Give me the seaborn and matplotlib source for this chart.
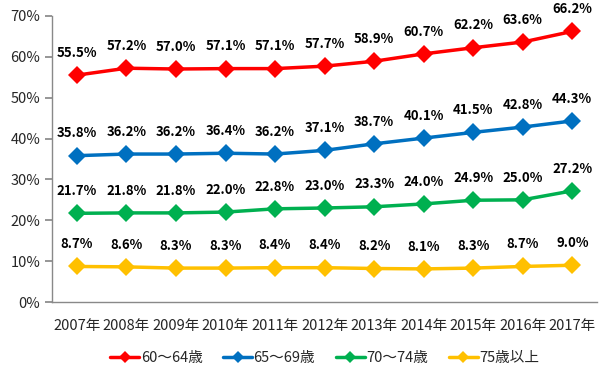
import matplotlib
matplotlib.use("Agg")
import matplotlib.pyplot as plt
import pandas as pd
import seaborn as sns

years = ["2007年", "2008年", "2009年", "2010年", "2011年", "2012年",
         "2013年", "2014年", "2015年", "2016年", "2017年"]
groups = ["60～64歳", "65～69歳", "70～74歳", "75歳以上"]
age_60_64 = [55.5, 57.2, 57.0, 57.1, 57.1, 57.7, 58.9, 60.7, 62.2, 63.6, 66.2]
age_65_69 = [35.8, 36.2, 36.2, 36.4, 36.2, 37.1, 38.7, 40.1, 41.5, 42.8, 44.3]
age_70_74 = [21.7, 21.8, 21.8, 22.0, 22.8, 23.0, 23.3, 24.0, 24.9, 25.0, 27.2]
age_75_up = [8.7, 8.6, 8.3, 8.3, 8.4, 8.4, 8.2, 8.1, 8.3, 8.7, 9.0]
colors = ["#FF0000", "#0070C0", "#00B050", "#FFC000"]

if __name__ == "__main__":
    sns.set_theme(style="white")
    plt.rcParams["font.family"] = ["Noto Sans CJK JP", "DejaVu Sans"]

    rows = []
    for g, vals in zip(groups, [age_60_64, age_65_69, age_70_74, age_75_up]):
        for i, v in enumerate(vals):
            rows.append({"idx": i, "value": v, "group": g})
    df = pd.DataFrame(rows)

    fig = plt.figure(figsize=(6.13, 3.78), dpi=100)
    ax = fig.add_axes([0.085, 0.201, 0.889, 0.757])
    sns.lineplot(data=df, x="idx", y="value", hue="group", hue_order=groups,
                 palette=colors, marker="D", markersize=9, markeredgewidth=0,
                 linewidth=2.5, ax=ax)

    for g, c in zip(groups, colors):
        sub = df[df.group == g]
        for _, r in sub.iterrows():
            ax.annotate(f"{r.value:.1f}%", (r.idx, r.value), xytext=(0, 11),
                        textcoords="offset points", ha="center", va="bottom",
                        fontsize=9.5, fontweight="bold", color="black")

    ax.set_xlim(-0.5, len(years) - 0.5)
    ax.set_ylim(0, 70)
    ax.set_xticks(range(len(years)))
    ax.set_xticklabels(years, fontsize=10.5)
    ax.set_xticks([i - 0.5 for i in range(len(years) + 1)], minor=True)
    ax.tick_params(axis="x", which="major", length=0, pad=12)
    ax.tick_params(axis="x", which="minor", length=5, color="#898989", direction="out")
    ax.set_yticks(range(0, 71, 10))
    ax.set_yticklabels([f"{v}%" for v in range(0, 71, 10)], fontsize=10.5)
    ax.tick_params(axis="y", length=5, color="#898989", direction="out", left=True)
    ax.set_xlabel("")
    ax.set_ylabel("")
    for s in ["top", "right"]:
        ax.spines[s].set_visible(False)
    for s in ["left", "bottom"]:
        ax.spines[s].set_color("#898989")
        ax.spines[s].set_linewidth(1)

    handles, labels = ax.get_legend_handles_labels()
    leg = ax.legend(handles, labels, loc="upper center", bbox_to_anchor=(0.5, -0.125),
                    ncol=4, frameon=False, fontsize=10.5, handlelength=2.0,
                    columnspacing=1.4, handletextpad=0.1, markerscale=0.7)
    for h in leg.get_lines():
        h.set_linewidth(2.5)

    fig.savefig("out.png", dpi=100)
